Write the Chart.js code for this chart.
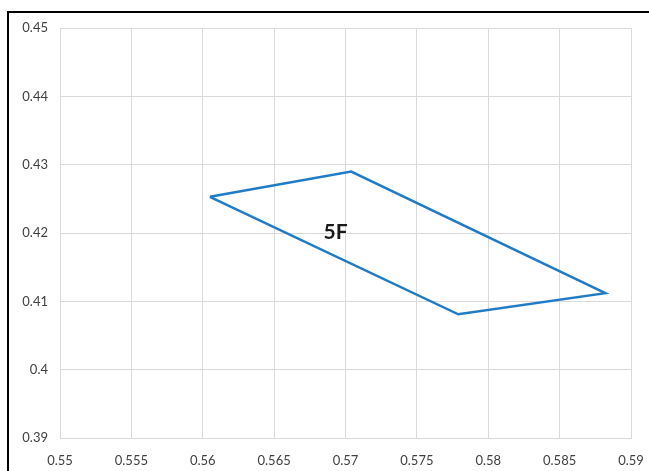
<!DOCTYPE html>
<html>
<head>
<meta charset="utf-8">
<script src="https://cdn.jsdelivr.net/npm/chart.js@4"></script>
<style>
  html, body { margin: 0; padding: 0; background: #fff; }
  #wrap { position: relative; width: 649px; height: 471px; overflow: hidden; }
  #frame { position: absolute; left: 7px; top: 11px; width: 700px; height: 500px;
           border-left: 2px solid #000; border-top: 2px solid #000; pointer-events: none; }
  canvas { position: absolute; left: 0; top: 0; }
</style>
</head>
<body>
<div id="wrap">
  <canvas id="chart" width="649" height="471"></canvas>
  <div id="frame"></div>
</div>
<script>
// polygon corners, closed by repeating the first one
const xVals = [0.5605, 0.5704, 0.5882, 0.5779, 0.5605];
const yVals = [0.4253, 0.4290, 0.4112, 0.4081, 0.4253];
const xTicks = [0.55, 0.555, 0.56, 0.565, 0.57, 0.575, 0.58, 0.585, 0.59];
const yTicks = [0.39, 0.4, 0.41, 0.42, 0.43, 0.44, 0.45];
const tag = { text: "5F", x: 0.5693, y: 0.4201 };

const points = xVals.map((x, i) => ({ x: x, y: yVals[i] }));

// draws the "5F" text at a data position
const tagPlugin = {
  id: "tag",
  afterDatasetsDraw(chart) {
    const c = chart.ctx;
    const px = chart.scales.x.getPixelForValue(tag.x);
    const py = chart.scales.y.getPixelForValue(tag.y);
    c.save();
    c.font = "bold 21px Lato, 'Open Sans', sans-serif";
    c.fillStyle = "#1a1a1a";
    c.textAlign = "center";
    c.textBaseline = "middle";
    c.fillText(tag.text, px, py);
    c.restore();
  }
};

new Chart(document.getElementById("chart"), {
  type: "scatter",
  data: {
    datasets: [{
      data: points,
      showLine: true,
      borderColor: "#1f7bc6",
      borderWidth: 2.5,
      pointRadius: 0,
      tension: 0,
      fill: false
    }]
  },
  options: {
    responsive: false,
    animation: false,
    layout: { padding: { left: 0, right: 18, top: 28, bottom: 0 } },
    plugins: { legend: { display: false }, tooltip: { enabled: false } },
    scales: {
      x: {
        type: "linear",
        min: 0.55, max: 0.59,
        afterBuildTicks(axis) { axis.ticks = xTicks.map(v => ({ value: v })); },
        afterFit(axis) { axis.height = 33; axis.paddingRight = 0; },
        grid: { color: "#d9d9d9", lineWidth: 1, drawTicks: false },
        border: { color: "#d9d9d9", width: 1 },
        ticks: {
          padding: 15,
          color: "#404040",
          font: { family: "Lato, 'Open Sans', sans-serif", size: 13 },
          maxRotation: 0,
          callback: v => String(+v.toFixed(3))
        }
      },
      y: {
        type: "linear",
        min: 0.39, max: 0.45,
        afterBuildTicks(axis) { axis.ticks = yTicks.map(v => ({ value: v })); },
        afterFit(axis) { axis.width = 60; },
        grid: { color: "#d9d9d9", lineWidth: 1, drawTicks: false },
        border: { color: "#d9d9d9", width: 1 },
        ticks: {
          padding: 12,
          color: "#404040",
          font: { family: "Lato, 'Open Sans', sans-serif", size: 13 },
          callback: v => String(+v.toFixed(2))
        }
      }
    }
  },
  plugins: [tagPlugin]
});
</script>
</body>
</html>
